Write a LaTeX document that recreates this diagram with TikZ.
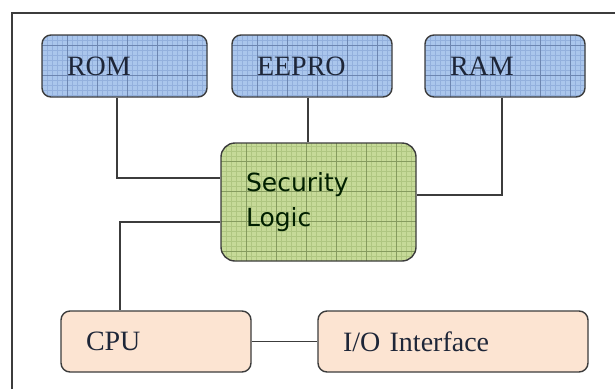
\documentclass[tikz,border=0pt]{standalone}
\usepackage{fontspec}
\setmainfont{Liberation Serif}
\newfontfamily\secfont{DejaVu Sans}
\usepackage{tikz}

\definecolor{memblue}{RGB}{170,198,236}
\definecolor{gridblue}{RGB}{128,158,208}
\definecolor{secgreen}{RGB}{198,218,152}
\definecolor{gridgreen}{RGB}{156,182,110}
\definecolor{peach}{RGB}{252,228,210}
\definecolor{edge}{RGB}{60,60,60}
\definecolor{ink}{RGB}{30,38,56}

\tikzset{
  unit/.style={draw=edge, line width=1.4pt, rounded corners=9pt, align=left,
    inner xsep=25pt, inner ysep=0pt, minimum height=62pt,
    font=\fontsize{28}{34}\selectfont, text=ink},
  meshed/.style 2 args={path picture={
    \draw[#1!55!#2, line width=0.3pt] (path picture bounding box.south west)
      grid[step=5pt] (path picture bounding box.north east);
    \draw[#1!85!black, line width=0.5pt] (path picture bounding box.south west)
      grid[step=30pt] (path picture bounding box.north east);}},
  mem/.style={unit, fill=memblue, meshed={gridblue}{memblue}},
  sec/.style={unit, rounded corners=14pt, fill=secgreen, meshed={gridgreen}{secgreen},
    font=\secfont\fontsize{25}{35}\selectfont, text=black!80!green!60!black},
  port/.style={unit, fill=peach},
  wire/.style={edge, line width=1.3pt}
}

\begin{document}
\begin{tikzpicture}[x=1pt, y=-1pt]
\useasboundingbox (0,0) rectangle (615,389);
\fill[white] (0,0) rectangle (615,389);
% outer frame
\draw[edge, line width=1.6pt] (12,389) -- (12,13) -- (615,13);

\node[mem, text width=115pt] (rom) at (124.5,66) {ROM};
\node[mem, text width=110pt] (eepro) at (312,66) {EEPRO};
\node[mem, text width=110pt] (ram) at (505,66) {RAM};
\node[sec, text width=145pt, minimum height=118pt] (seclogic) at (318.5,202) {Security\\Logic\\[-9pt]};
\node[port, text width=140pt, minimum height=61pt] (cpu) at (156,341.5) {CPU};
\node[port, text width=220pt, minimum height=61pt] (io) at (453,341.5) {I/O Interface};

\draw[wire] ([xshift=-7.5pt]rom.south) |- ([yshift=24pt]seclogic.west);
\draw[wire] ([xshift=-4pt]eepro.south) -- ([xshift=-4pt]eepro.south |- seclogic.north);
\draw[wire] ([xshift=-3pt]ram.south) |- ([yshift=7pt]seclogic.east);
\draw[wire] ([yshift=-20pt]seclogic.west) -| ([xshift=-36pt]cpu.north);
\draw[wire] (cpu.east) -- (io.west);
\end{tikzpicture}
\end{document}
